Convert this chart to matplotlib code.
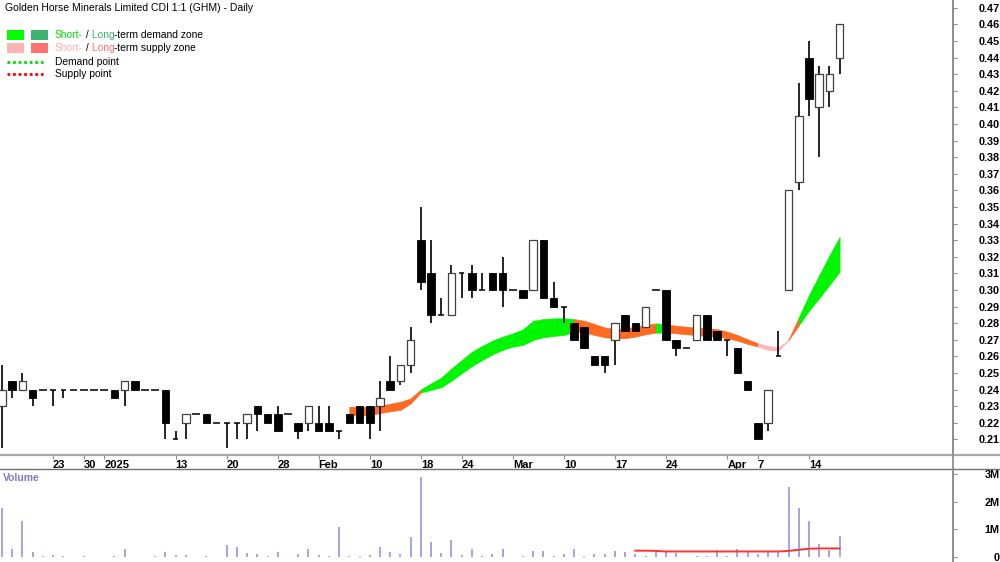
import matplotlib
matplotlib.use('Agg')
import matplotlib.pyplot as plt
import numpy as np
from matplotlib.lines import Line2D
from matplotlib.patches import Rectangle

plt.rcParams['font.family'] = ['Liberation Sans', 'DejaVu Sans']

W, H = 1000, 562

# ---------------- data ----------------
dates = ['2024-12-16', '2024-12-17', '2024-12-18', '2024-12-19', '2024-12-20', '2024-12-23', '2024-12-24',
         '2024-12-27', '2024-12-30', '2024-12-31',
         '2025-01-02', '2025-01-03', '2025-01-06', '2025-01-07', '2025-01-08', '2025-01-09', '2025-01-10',
         '2025-01-13', '2025-01-14', '2025-01-15', '2025-01-16', '2025-01-17', '2025-01-20', '2025-01-21',
         '2025-01-22', '2025-01-23', '2025-01-24', '2025-01-28', '2025-01-29', '2025-01-30', '2025-01-31',
         '2025-02-03', '2025-02-04', '2025-02-05', '2025-02-06', '2025-02-07', '2025-02-10', '2025-02-11',
         '2025-02-12', '2025-02-13', '2025-02-14', '2025-02-18', '2025-02-19', '2025-02-20', '2025-02-21',
         '2025-02-24', '2025-02-25', '2025-02-26', '2025-02-27', '2025-02-28',
         '2025-03-03', '2025-03-04', '2025-03-05', '2025-03-06', '2025-03-07', '2025-03-10', '2025-03-11',
         '2025-03-12', '2025-03-13', '2025-03-14', '2025-03-17', '2025-03-18', '2025-03-19', '2025-03-20',
         '2025-03-21', '2025-03-24', '2025-03-25', '2025-03-26', '2025-03-27', '2025-03-28', '2025-03-31',
         '2025-04-01', '2025-04-02', '2025-04-03', '2025-04-07', '2025-04-08', '2025-04-09', '2025-04-10',
         '2025-04-11', '2025-04-14', '2025-04-15', '2025-04-16', '2025-04-17']

opens = [0.23, 0.245, 0.24, 0.24, 0.24, 0.24, 0.24, 0.24, 0.24, 0.24,
         0.24, 0.24, 0.24, 0.245, 0.24, 0.24, 0.24, 0.21, 0.22, 0.225, 0.225, 0.22, 0.22, 0.22,
         0.22, 0.23, 0.225, 0.225, 0.225, 0.22, 0.22,
         0.22, 0.22, 0.215, 0.225, 0.23, 0.23, 0.23, 0.245, 0.245, 0.255, 0.33, 0.31, 0.285, 0.285,
         0.31, 0.31, 0.30, 0.31, 0.31,
         0.30, 0.30, 0.30, 0.33, 0.295, 0.29, 0.28, 0.2775, 0.26, 0.26, 0.27, 0.285, 0.28, 0.278,
         0.30, 0.30, 0.27, 0.265, 0.27, 0.285, 0.275,
         0.27, 0.265, 0.245, 0.22, 0.22, 0.26, 0.30, 0.365, 0.44, 0.41, 0.42, 0.44]
highs = [0.255, 0.245, 0.25, 0.24, 0.24, 0.24, 0.24, 0.24, 0.24, 0.24,
         0.24, 0.24, 0.245, 0.245, 0.24, 0.24, 0.24, 0.215, 0.225, 0.225, 0.225, 0.22, 0.22, 0.22,
         0.225, 0.23, 0.225, 0.23, 0.225, 0.22, 0.23,
         0.23, 0.23, 0.215, 0.225, 0.23, 0.23, 0.245, 0.26, 0.255, 0.278, 0.35, 0.33, 0.295, 0.315,
         0.31, 0.315, 0.31, 0.31, 0.32,
         0.30, 0.30, 0.33, 0.33, 0.305, 0.29, 0.28, 0.2775, 0.26, 0.26, 0.28, 0.285, 0.28, 0.29,
         0.30, 0.30, 0.27, 0.265, 0.285, 0.285, 0.275,
         0.27, 0.265, 0.245, 0.22, 0.24, 0.275, 0.36, 0.425, 0.45, 0.435, 0.435, 0.46]
lows = [0.205, 0.235, 0.24, 0.23, 0.24, 0.23, 0.235, 0.24, 0.24, 0.24,
        0.24, 0.235, 0.23, 0.24, 0.24, 0.24, 0.21, 0.21, 0.21, 0.225, 0.22, 0.22, 0.205, 0.21,
        0.21, 0.215, 0.22, 0.215, 0.225, 0.21, 0.215,
        0.215, 0.215, 0.21, 0.22, 0.22, 0.21, 0.215, 0.24, 0.243, 0.25, 0.30, 0.28, 0.285, 0.285,
        0.295, 0.295, 0.30, 0.30, 0.29,
        0.30, 0.295, 0.30, 0.295, 0.29, 0.28, 0.27, 0.265, 0.255, 0.25, 0.255, 0.275, 0.275, 0.278,
        0.30, 0.27, 0.26, 0.265, 0.27, 0.27, 0.27,
        0.26, 0.25, 0.24, 0.21, 0.215, 0.26, 0.30, 0.36, 0.405, 0.38, 0.41, 0.43]
closes = [0.24, 0.24, 0.245, 0.235, 0.24, 0.24, 0.24, 0.24, 0.24, 0.24,
          0.24, 0.235, 0.245, 0.24, 0.24, 0.24, 0.22, 0.21, 0.225, 0.225, 0.22, 0.22, 0.22, 0.22,
          0.225, 0.225, 0.22, 0.215, 0.225, 0.215, 0.23,
          0.215, 0.215, 0.215, 0.22, 0.22, 0.22, 0.235, 0.24, 0.255, 0.27, 0.305, 0.285, 0.285, 0.31,
          0.31, 0.30, 0.30, 0.30, 0.30,
          0.30, 0.295, 0.33, 0.295, 0.29, 0.29, 0.27, 0.265, 0.255, 0.255, 0.28, 0.275, 0.275, 0.29,
          0.30, 0.27, 0.265, 0.265, 0.285, 0.27, 0.27,
          0.27, 0.25, 0.24, 0.21, 0.24, 0.26, 0.36, 0.405, 0.415, 0.43, 0.43, 0.46]

# volume in millions
volume = [1.78, 0.28, 1.31, 0.19, 0.04, 0.07, 0.04, 0.0, 0.04, 0.0,
          0.0, 0.04, 0.28, 0.0, 0.0, 0.04, 0.19, 0.07, 0.07, 0.0, 0.04, 0.0, 0.43, 0.37,
          0.13, 0.10, 0.04, 0.17, 0.0, 0.11, 0.29,
          0.07, 0.05, 1.10, 0.04, 0.04, 0.07, 0.37, 0.17, 0.10, 0.73, 2.90, 0.55, 0.16, 0.61,
          0.07, 0.29, 0.05, 0.10, 0.29,
          0.0, 0.04, 0.23, 0.23, 0.04, 0.11, 0.28, 0.04, 0.10, 0.12, 0.20, 0.17, 0.10, 0.05,
          0.19, 0.19, 0.16, 0.0, 0.04, 0.04, 0.25,
          0.04, 0.28, 0.17, 0.11, 0.18, 0.17, 2.54, 1.76, 1.30, 0.46, 0.25, 0.77]

vol_avg_start = '2025-03-19'
vol_avg = [0.23, 0.23, 0.22, 0.20, 0.20, 0.20, 0.20, 0.20, 0.20, 0.20, 0.20, 0.20, 0.20, 0.20, 0.20,
           0.22, 0.26, 0.30, 0.31, 0.31, 0.31]

zone_start = '2025-02-06'
zone_upper = [0.2297, 0.2297, 0.2297, 0.2303, 0.2315, 0.2327, 0.2347, 0.2402, 0.2438, 0.2472,
              0.2528, 0.2578, 0.2628, 0.2663, 0.2695, 0.2719, 0.2739, 0.2763, 0.2815, 0.2825,
              0.2829, 0.2830, 0.2825, 0.2815, 0.2795, 0.2775, 0.2765, 0.2769, 0.2779, 0.2789,
              0.2799, 0.2793, 0.2785, 0.2779, 0.2775, 0.2769, 0.2765, 0.2749, 0.2729, 0.2703,
              0.2679, 0.2663, 0.2653, 0.2702, 0.2836, 0.2970, 0.3090, 0.3208, 0.3320]
zone_lower = [0.2247, 0.2245, 0.2247, 0.2259, 0.2269, 0.2277, 0.2317, 0.2382, 0.2398, 0.2414,
              0.2454, 0.2498, 0.2542, 0.2578, 0.2612, 0.2639, 0.2659, 0.2669, 0.2699, 0.2715,
              0.2723, 0.2729, 0.2749, 0.2745, 0.2729, 0.2715, 0.2709, 0.2709, 0.2719, 0.2733,
              0.2743, 0.2743, 0.2739, 0.2733, 0.2729, 0.2723, 0.2719, 0.2709, 0.2695, 0.2675,
              0.2659, 0.2639, 0.2635, 0.2698, 0.2786, 0.2875, 0.2950, 0.3030, 0.3110]
# zone type for each interval (S = supply, D = demand, P = short-term supply)
zone_type = (['S'] * 7 + ['D'] * 15 + ['S'] * 8 + ['D'] * 1 + ['S'] * 9 +
             ['P'] * 3 + ['S'] * 1 + ['D'] * 4)

tick_dates = ['2024-12-23', '2024-12-30', '2025-01-02', '2025-01-13', '2025-01-20', '2025-01-28',
              '2025-02-03', '2025-02-10', '2025-02-18', '2025-02-24', '2025-03-03', '2025-03-10',
              '2025-03-17', '2025-03-24', '2025-04-01', '2025-04-07', '2025-04-14']
tick_labels = ['23', '30', '2025', '13', '20', '28', 'Feb', '10', '18', '24', 'Mar', '10', '17', '24',
               'Apr', '7', '14']

price_ticks = [0.21, 0.22, 0.23, 0.24, 0.25, 0.26, 0.27, 0.28, 0.29, 0.30, 0.31, 0.32, 0.33, 0.34,
               0.35, 0.36, 0.37, 0.38, 0.39, 0.40, 0.41, 0.42, 0.43, 0.44, 0.45, 0.46, 0.47]
vol_ticks = [0, 1, 2, 3]
vol_tick_labels = ['0', '1M', '2M', '3M']

title = 'Golden Horse Minerals Limited CDI 1:1 (GHM) - Daily'

zone_colors = {'S': '#FF6A22', 'D': '#00F500', 'P': '#FFB8B8'}

# ---------------- figure ----------------
fig = plt.figure(figsize=(W / 100, H / 100), dpi=100)
ax = fig.add_axes([0, 1 - 455 / H, 953 / W, 455 / H])
axv = fig.add_axes([0, 0, 953 / W, 93 / H])

x = np.arange(len(dates))
xlim = (-0.2, 93.1)
for a in (ax, axv):
    a.set_xlim(*xlim)
    for s in ('top', 'left', 'bottom'):
        a.spines[s].set_visible(False)
    a.spines['right'].set_color('#909090')
    a.spines['right'].set_linewidth(1.3)
    a.yaxis.tick_right()
    a.set_facecolor('white')

ax.set_ylim(0.2006, 0.4747)
axv.set_ylim(-0.18, 3.18)

# zone band
z0 = dates.index(zone_start)
for j, zt in enumerate(zone_type):
    xs = [z0 + j, z0 + j + 1]
    c = zone_colors[zt]
    ax.fill_between(xs, [zone_upper[j], zone_upper[j + 1]], [zone_lower[j], zone_lower[j + 1]],
                    facecolor=c, edgecolor=c, linewidth=0.4, zorder=2)

# candles
bw = 0.74
for i in range(len(dates)):
    o, h, l, c = opens[i], highs[i], lows[i], closes[i]
    if h > l:
        ax.plot([i, i], [l, h], color='black', lw=1.2, zorder=3, solid_capstyle='butt')
    if abs(c - o) < 1e-9:
        w = bw if h == l else 0.55
        ax.plot([i - w / 2, i + w / 2], [o, o], color='black', lw=1.1, zorder=4, solid_capstyle='butt')
    else:
        lo, hi = min(o, c), max(o, c)
        if c < o:
            rect = Rectangle((i - bw / 2, lo), bw, hi - lo, facecolor='black', edgecolor='black',
                             lw=0.6, zorder=4)
        else:
            rect = Rectangle((i - bw / 2, lo), bw, hi - lo, facecolor='white', edgecolor='#404040',
                             lw=0.9, zorder=4)
        ax.add_patch(rect)

# price axis
ax.set_yticks(price_ticks)
ax.set_yticklabels([f'{p:.2f}' for p in price_ticks])
ax.tick_params(axis='y', direction='out', length=3, width=0.8, color='#909090', pad=30.5,
               labelsize=7.8)
for t in ax.get_yticklabels():
    t.set_horizontalalignment('right')
    t.set_fontweight('bold')

# date axis
tick_pos = [dates.index(d) for d in tick_dates]
ax.set_xticks(tick_pos)
ax.set_xticklabels(tick_labels)
ax.tick_params(axis='x', direction='out', length=3, width=0.8, color='#909090', pad=0.5,
               labelsize=8)
for t in ax.get_xticklabels():
    t.set_horizontalalignment('left')
    t.set_fontweight('bold')

# volume
axv.vlines(x, 0, volume, color='#8C8CD8', lw=1.1, zorder=2)
va0 = dates.index(vol_avg_start)
axv.plot(np.arange(va0, va0 + len(vol_avg)), vol_avg, color='#FF3030', lw=1.4, zorder=3)
axv.set_xticks([])
axv.set_yticks(vol_ticks)
axv.set_yticklabels(vol_tick_labels)
axv.tick_params(axis='y', direction='out', length=3, width=0.8, color='#909090', pad=30.5,
                labelsize=7.8)
for t in axv.get_yticklabels():
    t.set_horizontalalignment('right')
    t.set_fontweight('bold')
fig.text(3 / W, 1 - 478 / H, 'Volume', color='#7C7CC4', fontsize=7.5, fontweight='bold',
         va='center', ha='left')

# frame lines
fig.add_artist(Line2D([0, 1], [1 - 455 / H] * 2, color='#A8A8A8', lw=1.6))
fig.add_artist(Line2D([0, 1], [1 - 469 / H] * 2, color='#707070', lw=1.0))
fig.add_artist(Line2D([953 / W] * 2, [0, 1], color='#909090', lw=1.3))

# title & legend
fig.text(5 / W, 1 - 8 / H, title, fontsize=7.45, va='center', ha='left', color='black')

renderer = fig.canvas.get_renderer()


def parts_text(x_px, y_px, parts, size=7.4):
    xx = x_px
    for s, col in parts:
        t = fig.text(xx / W, 1 - y_px / H, s, color=col, fontsize=size, va='center', ha='left')
        bb = t.get_window_extent(renderer=renderer)
        xx += bb.width


fig.add_artist(Rectangle((7 / W, 1 - 40 / H), 17 / W, 10 / H, transform=fig.transFigure,
                         facecolor='#00FF00', edgecolor='none'))
fig.add_artist(Rectangle((31 / W, 1 - 40 / H), 17 / W, 10 / H, transform=fig.transFigure,
                         facecolor='#3CB371', edgecolor='none'))
fig.add_artist(Rectangle((7 / W, 1 - 53 / H), 17 / W, 10 / H, transform=fig.transFigure,
                         facecolor='#FFB3B3', edgecolor='none'))
fig.add_artist(Rectangle((31 / W, 1 - 53 / H), 17 / W, 10 / H, transform=fig.transFigure,
                         facecolor='#FF7070', edgecolor='none'))
fig.add_artist(Line2D([7 / W, 45 / W], [1 - 62 / H] * 2, color='#00DD00', lw=2, linestyle=(0, (1, 1))))
fig.add_artist(Line2D([7 / W, 45 / W], [1 - 74 / H] * 2, color='#FF0000', lw=2, linestyle=(0, (1, 1))))

parts_text(55, 35, [('Short-', '#00E000'), (' /', 'black'), (' Long', '#3CB371'),
                    ('-term demand zone', 'black')])
parts_text(55, 48, [('Short-', '#FFB3B3'), (' /', 'black'), (' Long', '#FF7070'),
                    ('-term supply zone', 'black')])
parts_text(55, 62, [('Demand point', 'black')])
parts_text(55, 74, [('Supply point', 'black')])

fig.savefig('out.png', dpi=100, facecolor='white')
